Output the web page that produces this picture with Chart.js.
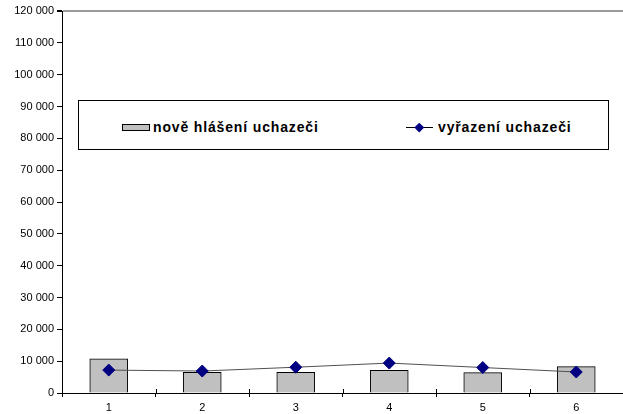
<html>

<head>
    <script src="https://cdn.jsdelivr.net/npm/chart.js@4.4.0/dist/chart.umd.min.js"></script>

    <style>
        body {
            margin: 0;
            background-color: #ffffff;
        }

        #wrap {
            position: relative;
            width: 623px;
            height: 414px;
            overflow: hidden;
        }

        #legendBox {
            position: absolute;
            left: 78px;
            top: 100px;
            width: 529px;
            height: 48px;
            border: 1px solid #000;
            background: #fff;
            font-family: 'Liberation Sans', Arial, sans-serif;
            font-weight: 700;
            font-size: 14px;
            letter-spacing: 0.85px;
            color: #000;
        }

        .item {
            position: absolute;
            top: 18px;
            height: 16px;
            line-height: 16px;
            display: flex;
            align-items: center;
            white-space: nowrap;
        }

        .swatch {
            width: 26px;
            height: 5px;
            background: #c0c0c0;
            border: 1px solid #000;
            margin-right: 3px;
            margin-top: 1px;
        }

        .lineSym {
            position: relative;
            width: 27px;
            height: 12px;
            margin-right: 5px;
        }

        .lineSym:before {
            content: '';
            position: absolute;
            left: 0;
            right: 0;
            top: 6px;
            border-top: 1px solid #000;
        }

        .lineSym:after {
            content: '';
            position: absolute;
            left: 10px;
            top: 3px;
            width: 6.5px;
            height: 6.5px;
            background: #000080;
            transform: rotate(45deg);
        }
    </style>

</head>

<body>
    <div id="wrap">
        <canvas id="myChart" width="623" height="414"></canvas>
        <div id="legendBox">
            <div class="item" style="left: 43px;"><span class="swatch"></span>nově hlášení uchazeči</div>
            <div class="item" style="left: 327px;"><span class="lineSym"></span>vyřazení uchazeči</div>
        </div>
    </div>
</body>
<script>

    // categories and values
    var periods = ['1', '2', '3', '4', '5', '6'];
    var newApplicants = [10700, 6500, 6500, 7100, 6400, 8300];
    var removedApplicants = [7200, 6900, 8100, 9400, 8000, 6600];
    var yTicks = [0, 10000, 20000, 30000, 40000, 50000, 60000, 70000, 80000, 90000, 100000, 110000, 120000];

    function spaced(v) {
        return String(v).replace(/\B(?=(\d{3})+(?!\d))/g, ' ');
    }

    // small crossing tick marks on the category axis
    var crossTicks = {
        id: 'crossTicks',
        afterDatasetsDraw: function (chart) {
            var xs = chart.scales.x;
            var ctx = chart.ctx;
            var step = (xs.right - xs.left) / periods.length;
            ctx.save();
            ctx.strokeStyle = '#000';
            ctx.lineWidth = 1;
            for (var i = 1; i < periods.length; i++) {
                var px = Math.round(xs.left + i * step) + 0.5;
                ctx.beginPath();
                ctx.moveTo(px, xs.top - 4);
                ctx.lineTo(px, xs.top);
                ctx.stroke();
            }
            ctx.restore();
        }
    };

    var paintingCanvas = document.getElementById('myChart').getContext('2d');
    var chart = new Chart(paintingCanvas, {
        type: 'bar',
        data: {
            labels: periods,
            datasets: [
                {
                    type: 'line',
                    label: 'vyřazení uchazeči',
                    data: removedApplicants,
                    borderColor: '#505050',
                    borderWidth: 1,
                    pointStyle: 'rectRot',
                    pointRadius: 6,
                    pointBackgroundColor: '#000080',
                    pointBorderColor: '#000080',
                    pointBorderWidth: 1,
                    tension: 0,
                    clip: false,
                    order: 0
                },
                {
                    label: 'nově hlášení uchazeči',
                    data: newApplicants,
                    backgroundColor: '#c0c0c0',
                    borderColor: '#000000',
                    borderWidth: 1,
                    barThickness: 38,
                    order: 1
                }
            ]
        },
        options: {
            responsive: false,
            animation: false,
            layout: {
                autoPadding: false,
                padding: { top: 11, right: -8, bottom: 0, left: 0 }
            },
            plugins: {
                legend: { display: false },
                tooltip: { enabled: false }
            },
            scales: {
                x: {
                    afterFit: function (scale) { scale.height = 21; },
                    grid: {
                        offset: true,
                        drawOnChartArea: false,
                        color: '#000',
                        tickLength: 4
                    },
                    border: { color: '#000', width: 1 },
                    ticks: {
                        padding: 4,
                        color: '#000',
                        font: { family: "'Liberation Sans', Arial, sans-serif", size: 11 }
                    }
                },
                y: {
                    min: 0,
                    max: 120000,
                    afterFit: function (scale) { scale.width = 62; },
                    afterBuildTicks: function (scale) {
                        scale.ticks = yTicks.map(function (v) { return { value: v }; });
                    },
                    grid: {
                        color: function (c) { return c.tick && c.tick.value === 120000 ? '#9a9a9a' : 'rgba(0,0,0,0)'; },
                        lineWidth: function (c) { return c.tick && c.tick.value === 120000 ? 2 : 1; },
                        tickColor: '#000',
                        tickLength: 5
                    },
                    border: { color: '#000', width: 1 },
                    ticks: {
                        padding: 3,
                        color: '#000',
                        font: { family: "'Liberation Sans', Arial, sans-serif", size: 11 },
                        callback: function (v) { return spaced(v); }
                    }
                }
            }
        },
        plugins: [crossTicks]
    });

</script>

</html>
